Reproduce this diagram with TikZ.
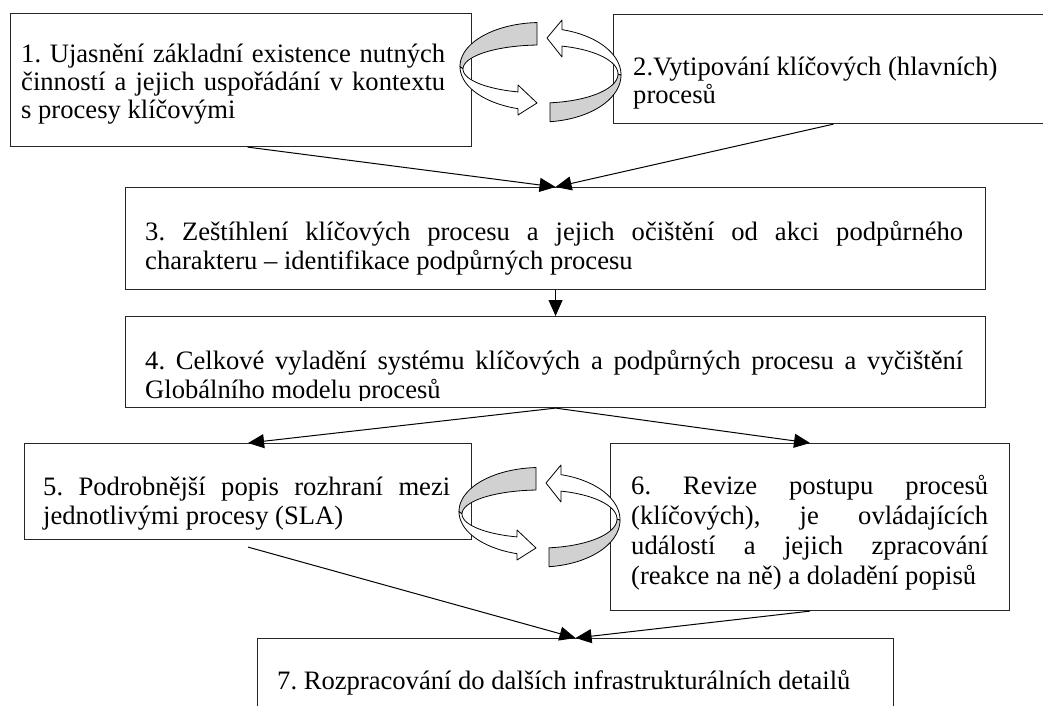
\documentclass[tikz,border=0pt]{standalone}
\usepackage{fontspec}
\setmainfont{Liberation Serif}
\usetikzlibrary{arrows.meta,calc}
\frenchspacing

% one line stretched to the full text width (justified line)
\newcommand{\jline}[1]{\makebox[\linewidth][s]{#1}}
% text block: width, line distance, content
\newcommand{\boxtext}[3]{\parbox[t]{#1}{\fontsize{26.6}{#2}\selectfont #3}}

\tikzset{
  stepbox/.style={draw=black!85, line width=1.1pt, inner sep=0pt, anchor=north west},
  txt/.style={anchor=base west, inner sep=0pt},
  flow/.style={line width=1pt, -{Triangle[length=16pt,width=14pt]}},
  band/.style={draw, line width=0.8pt, line join=round},
  % pair of circular arrows forming a ring
  ringpair/.pic={
    % left arrow: grey back part
    \path[band, fill=black!18]
      plot[domain=-92.8:-180, samples=40] ({81*cos(\x)},{-3.5+44*sin(\x)})
      -- plot[domain=-180:-92.9, samples=40] ({78*cos(\x)},{-1+24*sin(\x)}) -- cycle;
    % left arrow: white front part with head
    \path[band, fill=white]
      plot[domain=180:106.5, samples=40] ({81*cos(\x)},{-3.5+44*sin(\x)})
      -- (-23,45) -- (-4,33) -- (-23,15)
      -- plot[domain=107.2:180, samples=40] ({78*cos(\x)},{-1+24*sin(\x)}) -- cycle;
    % right arrow: grey lower part
    \path[band, fill=black!18]
      plot[domain=83.5:0, samples=40] ({80*cos(\x)},{5+47*sin(\x)})
      -- plot[domain=0:83.3, samples=40] ({77*cos(\x)},{4+29*sin(\x)}) -- cycle;
    % right arrow: white upper part with head
    \path[band, fill=white]
      plot[domain=0:-74.8, samples=40] ({80*cos(\x)},{5+47*sin(\x)})
      -- (21,-50) -- (6,-32) -- (21,-13)
      -- plot[domain=-74.2:0, samples=40] ({77*cos(\x)},{4+29*sin(\x)}) -- cycle;
  }
}

\begin{document}
\begin{tikzpicture}[x=1pt,y=-1pt]
\useasboundingbox (0,0) rectangle (1043,706);
\clip (0,0) rectangle (1043,706);
\fill[white] (0,0) rectangle (1043,706);

% frames
\node[stepbox, minimum width=461pt, minimum height=133pt] (b1) at (10,13) {};
\node[stepbox, minimum width=440pt, minimum height=109pt] (b2) at (613,14) {};
\node[stepbox, minimum width=860pt, minimum height=102pt] (b3) at (125,187) {};
\node[stepbox, minimum width=860pt, minimum height=91pt]  (b4) at (125,316) {};
\node[stepbox, minimum width=447pt, minimum height=96pt]  (b5) at (24,443) {};
\node[stepbox, minimum width=399pt, minimum height=167pt] (b6) at (610,443) {};
\node[stepbox, minimum width=636pt, minimum height=110pt] (b7) at (257,638) {};

% texts
\node[txt] (t1) at (21,63) {\boxtext{424pt}{28pt}{%
  \jline{1. Ujasnění základní existence nutných}\\
  \jline{činností a jejich uspořádání v kontextu}\\
  s procesy klíčovými}};
\node[txt] (t2) at (633,76) {\boxtext{400pt}{28pt}{%
  2.Vytipování klíčových (hlavních)\\
  procesů}};
\node[txt] (t3) at (145,240) {\boxtext{818pt}{29pt}{%
  \jline{3. Zeštíhlení klíčových procesu a jejich očištění od akci podpůrného}\\
  charakteru – identifikace podpůrných procesu}};
\begin{scope}
  \clip (125,316) rectangle (985,400);
  \node[txt] (t4) at (145,369) {\boxtext{818pt}{29pt}{%
    \jline{4. Celkové vyladění systému klíčových a podpůrných procesu a vyčištění}\\
    Globálního modelu procesů}};
\end{scope}
\node[txt] (t5) at (43,495) {\boxtext{407pt}{29pt}{%
  \jline{5. Podrobnější popis rozhraní mezi}\\
  jednotlivými procesy (SLA)}};
\node[txt] (t6) at (631,494) {\boxtext{357pt}{30pt}{%
  \jline{6. Revize postupu procesů}\\
  \jline{(klíčových), je ovládajících}\\
  \jline{událostí a jejich zpracování}\\
  (reakce na ně) a doladění popisů}};
\node[txt] (t7) at (277,689) {\fontsize{26.6}{30}\selectfont
  7. Rozpracování do dalších infrastrukturálních detailů};

% connectors
\draw[flow] ([xshift=6.5pt]b1.south) -- (b3.north);
\draw[flow] (b2.south) -- (b3.north);
\draw[flow] (b3.south) -- (b4.north);
\draw[flow] (b4.south) -- (b5.north);
\draw[flow] (b4.south) -- (b6.north);
\draw[flow] ([yshift=-7pt]b5.south) -- (b7.north);
\draw[flow] (b6.south) -- (b7.north);

% circular arrows
\pic at (541,70) {ringpair};
\pic at (540,515) {ringpair};
\end{tikzpicture}
\end{document}
